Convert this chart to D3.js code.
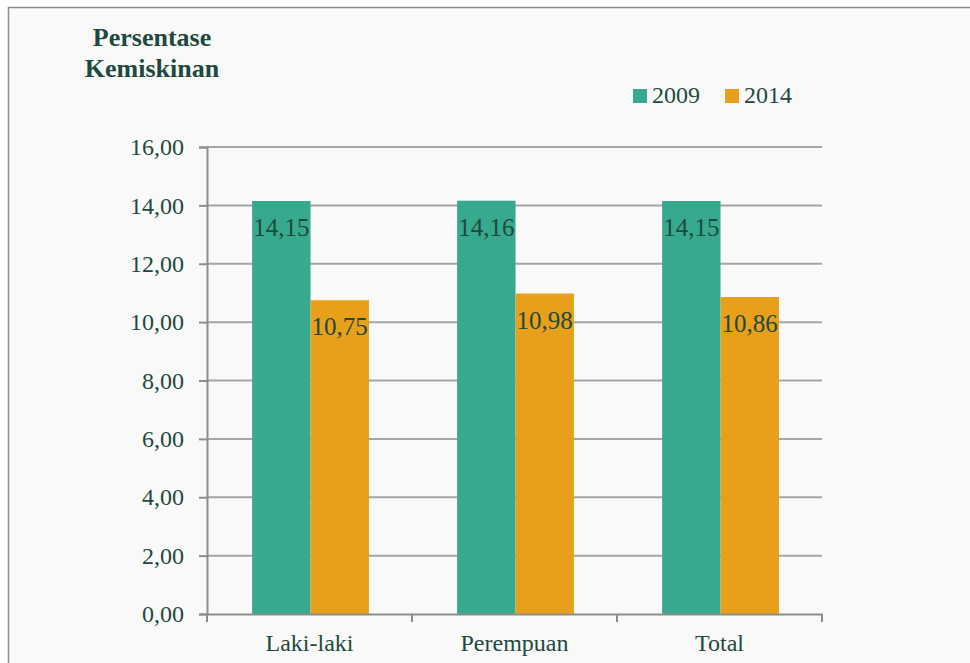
<!DOCTYPE html>
<html>
<head>
<meta charset="utf-8">
<script src="https://cdn.jsdelivr.net/npm/d3@7"></script>
<style>
  body { margin: 0; background: #ffffff; }
  text { font-family: "Liberation Serif", "DejaVu Serif", serif; fill: #1e4a3e; }
</style>
</head>
<body>
<svg id="chart" width="970" height="663"></svg>
<script>
const categories = ["Laki-laki", "Perempuan", "Total"];
const years = ["2009", "2014"];
const values2009 = [14.15, 14.16, 14.15];
const values2014 = [10.75, 10.98, 10.86];
const yTicks = [0, 2, 4, 6, 8, 10, 12, 14, 16];
const colors = ["#37a98e", "#e89f1a"];

const svg = d3.select("svg#chart");
const margin = {top: 147, right: 148, bottom: 49, left: 207};
const width = 970 - margin.left - margin.right;
const height = 663 - margin.top - margin.bottom;

// frame
svg.append("rect").attr("x", 8.5).attr("y", 7.5).attr("width", 1000).attr("height", 700)
  .attr("fill", "#f9f9f9").attr("stroke", "#8a8f8c").attr("stroke-width", 1.5);

const g = svg.append("g").attr("transform", `translate(${margin.left},${margin.top})`);

const x = d3.scaleBand().domain(categories).range([0, width]).paddingInner(0).paddingOuter(0);
const x1 = d3.scaleBand().domain(years).range([x.bandwidth() * 0.22, x.bandwidth() * 0.79]);
const y = d3.scaleLinear().domain([0, 16]).range([height, 0]);

const fmt = d => d.toFixed(2).replace(".", ",");

// gridlines
g.append("g").selectAll("line").data(yTicks.filter(d => d > 0)).join("line")
  .attr("x1", 0).attr("x2", width)
  .attr("y1", d => y(d)).attr("y2", d => y(d))
  .attr("stroke", "#a3a6a4").attr("stroke-width", 2);

// bars
const rows = categories.map((c, i) => ({cat: c, vals: [values2009[i], values2014[i]]}));
const groups = g.append("g").selectAll("g").data(rows).join("g")
  .attr("transform", d => `translate(${x(d.cat)},0)`);

groups.selectAll("rect").data(d => d.vals.map((v, j) => ({year: years[j], v, j}))).join("rect")
  .attr("x", d => x1(d.year)).attr("width", x1.bandwidth())
  .attr("y", d => y(d.v)).attr("height", d => height - y(d.v))
  .attr("fill", d => colors[d.j]);

groups.selectAll("text").data(d => d.vals.map((v, j) => ({year: years[j], v, j}))).join("text")
  .attr("x", d => x1(d.year) + x1.bandwidth() / 2)
  .attr("y", d => y(d.v) + 35)
  .attr("text-anchor", "middle")
  .style("font-size", "25px")
  .text(d => fmt(d.v));

// y axis
const yAxis = g.append("g").call(d3.axisLeft(y).tickValues(yTicks).tickFormat(fmt).tickSize(8).tickPadding(15));
yAxis.select(".domain").attr("stroke", "#8a8f8c").attr("stroke-width", 2);
yAxis.selectAll(".tick line").attr("stroke", "#8a8f8c").attr("stroke-width", 2);
yAxis.selectAll(".tick text").style("font-size", "24px").attr("fill", "#1e4a3e");

// x axis
const xAxis = g.append("g").attr("transform", `translate(0,${height})`)
  .call(d3.axisBottom(x).tickSize(0).tickPadding(20));
xAxis.select(".domain").attr("stroke", "#8a8f8c").attr("stroke-width", 2);
xAxis.selectAll(".tick text").style("font-size", "24px").attr("fill", "#1e4a3e");
xAxis.append("g").selectAll("line").data(d3.range(categories.length + 1)).join("line")
  .attr("x1", i => i * x.step()).attr("x2", i => i * x.step())
  .attr("y1", 0).attr("y2", 8)
  .attr("stroke", "#8a8f8c").attr("stroke-width", 2);

// axis title
svg.append("text").attr("x", 152).attr("y", 46).attr("text-anchor", "middle")
  .style("font-size", "26px").style("font-weight", "bold").text("Persentase");
svg.append("text").attr("x", 152).attr("y", 77).attr("text-anchor", "middle")
  .style("font-size", "26px").style("font-weight", "bold").text("Kemiskinan");

// legend
const legendX = [633, 725];
const legend = svg.append("g").selectAll("g").data(years).join("g")
  .attr("transform", (d, i) => `translate(${legendX[i]},89)`);
legend.append("rect").attr("width", 14).attr("height", 14).attr("fill", (d, i) => colors[i]);
legend.append("text").attr("x", 19).attr("y", 14).style("font-size", "24px").text(d => d);
</script>
</body>
</html>
